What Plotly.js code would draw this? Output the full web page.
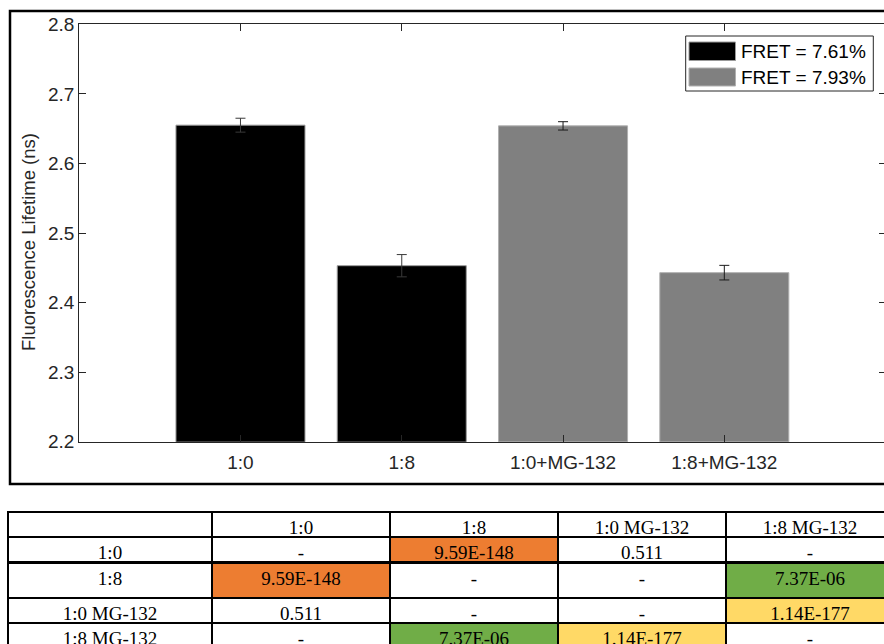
<!DOCTYPE html>
<html>
<head>
<meta charset="utf-8">
<script src="https://cdn.plot.ly/plotly-3.0.1.min.js"></script>
<style>
html, body { margin: 0; padding: 0; overflow: hidden; background: #fff; }
#chart { position: absolute; left: 0; top: 0; width: 900px; height: 660px; }
</style>
</head>
<body>
<div id="chart"></div>
<script>
// ---- data ----
var categories = ["1:0", "1:8", "1:0+MG-132", "1:8+MG-132"];
var seriesNames = ["FRET = 7.61%", "FRET = 7.93%"];
var yTitle = "Fluorescence Lifetime (ns)";
var lifetimeA = [2.655, 2.453];      // black series (1:0, 1:8)
var errorA = [0.010, 0.016];
var lifetimeB = [2.654, 2.443];      // gray series (+MG-132)
var errorB = [0.006, 0.0105];
var yTickVals = [2.2, 2.3, 2.4, 2.5, 2.6, 2.7, 2.8];

var tableColLabels = ["", "1:0", "1:8", "1:0 MG-132", "1:8 MG-132"];
var tableRowLabels = ["1:0", "1:8", "1:0 MG-132", "1:8 MG-132"];
var pRow1 = ["-", "9.59E-148", "0.511", "-"];
var pRow2 = ["9.59E-148", "-", "-", "7.37E-06"];
var pRow3 = ["0.511", "-", "-", "1.14E-177"];
var pRow4 = ["-", "7.37E-06", "1.14E-177", "-"];

// ---- styles ----
var W = 900, H = 660;
var ORANGE = "#ED7D31", GREEN = "#70AD47", YELLOW = "#FFD966", WH = "#FFFFFF";
var fillRow1 = [WH, WH, ORANGE, WH, WH];
var fillRow2 = [WH, ORANGE, WH, WH, GREEN];
var fillRow3 = [WH, WH, WH, WH, YELLOW];
var fillRow4 = [WH, WH, GREEN, YELLOW, WH];

function px(x) { return x / W; }
function py(y) { return 1 - y / H; }

function cols(rows) {
  // transpose rows -> columns
  var out = [];
  for (var c = 0; c < rows[0].length; c++) {
    out.push(rows.map(function (r) { return r[c]; }));
  }
  return out;
}

var axisFont = { family: "Liberation Sans, Arial, sans-serif", size: 19, color: "#262626" };
var tableFont = { family: "Liberation Serif, Times New Roman, serif", size: 19, color: "#000000" };
var colWidths = [204, 178, 168, 168, 168];

var traceA = {
  type: "bar", x: categories.slice(0, 2), y: lifetimeA, name: seriesNames[0],
  width: 0.8, showlegend: false,
  marker: { color: "#000000", line: { color: "#9a9a9a", width: 1 } },
  error_y: { type: "data", array: errorA, visible: true, color: "#3a3a3a", thickness: 1, width: 5 }
};
var traceB = {
  type: "bar", x: categories.slice(2), y: lifetimeB, name: seriesNames[1],
  width: 0.8, showlegend: false,
  marker: { color: "#808080", line: { color: "#b0b0b0", width: 1 } },
  error_y: { type: "data", array: errorB, visible: true, color: "#1a1a1a", thickness: 1, width: 5 }
};

var row1 = [tableRowLabels[0]].concat(pRow1);
var row2 = [tableRowLabels[1]].concat(pRow2);
var row3 = [tableRowLabels[2]].concat(pRow3);
var row4 = [tableRowLabels[3]].concat(pRow4);

var table1 = {
  type: "table",
  domain: { x: [px(8), px(894)], y: [py(575), py(511.7)] },
  columnwidth: colWidths,
  header: {
    values: tableColLabels.map(function (t) { return [t]; }),
    height: 25, align: "center", font: tableFont,
    fill: { color: WH }, line: { color: "#000", width: 2 }
  },
  cells: {
    values: cols([row1]),
    height: 25, align: "center", font: tableFont,
    fill: { color: fillRow1 }, line: { color: "#000", width: 2 }
  }
};
var table2 = {
  type: "table",
  domain: { x: [px(8), px(894)], y: [0, py(562.7)] },
  columnwidth: colWidths,
  header: {
    values: row2.map(function (t) { return [t]; }),
    height: 35, align: "center", font: tableFont,
    fill: { color: fillRow2 }, line: { color: "#000", width: 2 }
  },
  cells: {
    values: cols([row3, row4]),
    height: 25, align: "center", font: tableFont,
    fill: { color: cols([fillRow3, fillRow4]) }, line: { color: "#000", width: 2 }
  }
};

var shapes = [
  // outer frame around the figure
  { type: "rect", xref: "paper", yref: "paper", x0: px(10), x1: px(898), y0: py(484), y1: py(11),
    line: { color: "#000", width: 2.5 }, fillcolor: "rgba(0,0,0,0)" },
  // legend box
  { type: "rect", xref: "paper", yref: "paper", x0: px(685.7), x1: px(873.3), y0: py(91), y1: py(36),
    line: { color: "#262626", width: 1 }, fillcolor: "#ffffff" },
  { type: "rect", xref: "paper", yref: "paper", x0: px(689), x1: px(735.5), y0: py(60.5), y1: py(42),
    line: { color: "#9a9a9a", width: 1 }, fillcolor: "#000000" },
  { type: "rect", xref: "paper", yref: "paper", x0: px(689), x1: px(735.5), y0: py(86), y1: py(68),
    line: { color: "#b0b0b0", width: 1 }, fillcolor: "#808080" }
];
var annotations = [
  { xref: "paper", yref: "paper", x: px(738.5), y: py(51.5), xanchor: "left", yanchor: "middle",
    text: seriesNames[0], showarrow: false, font: { family: axisFont.family, size: 19, color: "#000" } },
  { xref: "paper", yref: "paper", x: px(738.5), y: py(77), xanchor: "left", yanchor: "middle",
    text: seriesNames[1], showarrow: false, font: { family: axisFont.family, size: 19, color: "#000" } },
  // y axis title
  { xref: "paper", yref: "paper", x: px(28), y: py(242), xanchor: "center", yanchor: "middle",
    text: yTitle, textangle: -90, showarrow: false,
    font: { family: axisFont.family, size: 18.5, color: "#262626" } }
];

var layout = {
  width: W, height: H,
  margin: { l: 0, r: 0, t: 0, b: 0 },
  paper_bgcolor: "#ffffff", plot_bgcolor: "#ffffff",
  barmode: "overlay",
  showlegend: false,
  font: axisFont,
  xaxis: {
    domain: [px(79.2), px(885.6)],
    type: "category", categoryorder: "array", categoryarray: categories,
    range: [-1, 4],
    showline: true, linecolor: "#262626", linewidth: 1, mirror: "ticks",
    ticks: "inside", ticklen: 7, tickcolor: "#262626", tickwidth: 1,
    ticklabelstandoff: 3,
    showgrid: false, zeroline: false, tickfont: axisFont, automargin: false,
    fixedrange: true
  },
  yaxis: {
    domain: [py(441.7), py(24.3)],
    range: [2.2, 2.8], tickvals: yTickVals, tickformat: ".1f",
    showline: true, linecolor: "#262626", linewidth: 1, mirror: "ticks",
    ticks: "inside", ticklen: 7, tickcolor: "#262626", tickwidth: 1,
    showgrid: false, zeroline: false, tickfont: axisFont, automargin: false,
    fixedrange: true
  },
  shapes: shapes,
  annotations: annotations
};

Plotly.newPlot("chart", [traceA, traceB, table1, table2], layout, { staticPlot: true, displayModeBar: false });
</script>
</body>
</html>
